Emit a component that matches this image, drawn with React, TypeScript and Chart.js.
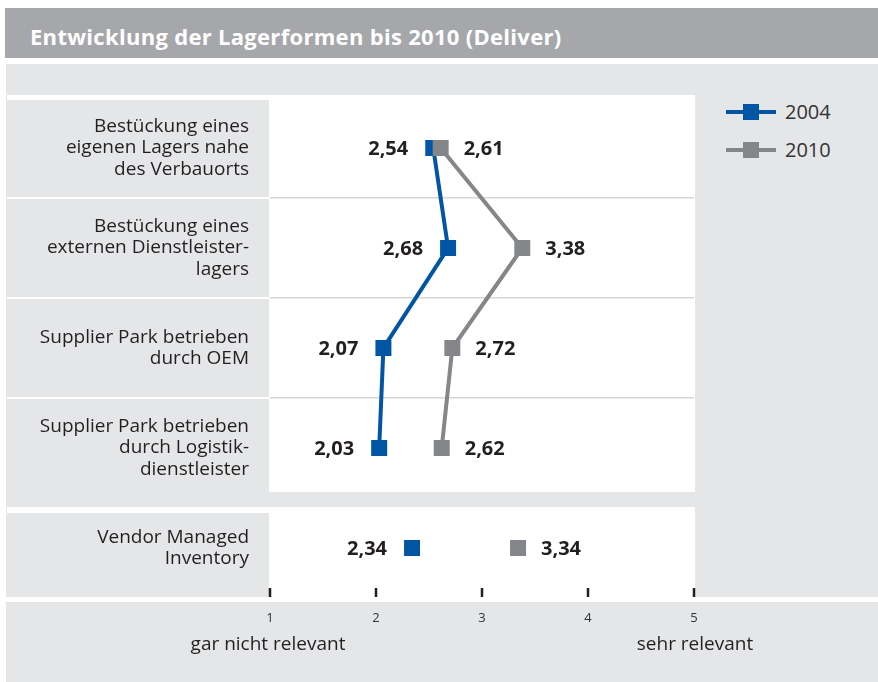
import React, { useEffect, useRef } from "react";
import { Chart, registerables } from "chart.js";

Chart.register(...registerables);

// ---- Data ----
const title = "Entwicklung der Lagerformen bis 2010 (Deliver)";
const categories: string[][] = [
  ["Bestückung eines", "eigenen Lagers nahe", "des Verbauorts"],
  ["Bestückung eines", "externen Dienstleister-", "lagers"],
  ["Supplier Park betrieben", "durch OEM"],
  ["Supplier Park betrieben", "durch Logistik-", "dienstleister"],
  ["Vendor Managed", "Inventory"],
];
const seriesLabels = ["2004", "2010"];
const values2004 = [2.54, 2.68, 2.07, 2.03, 2.34];
const values2010 = [2.61, 3.38, 2.72, 2.62, 3.34];
const xMin = 1;
const xMax = 5;
const axisEndLabels = ["gar nicht relevant", "sehr relevant"];

// ---- Styles ----
const BLUE = "#0055a5";
const GRAY = "#858689";
const TEXT = "#231f20";
const PANEL = "#e5e6e8";
const BAND = "#a6a7aa";
const FONT = '"Open Sans", "Noto Sans", sans-serif';

const hideLastSegment = (ctx: any) =>
  ctx.p1DataIndex === categories.length - 1 ? "rgba(0,0,0,0)" : undefined;

const valueLabels = {
  id: "valueLabels",
  afterDatasetsDraw(chart: any) {
    const ctx = chart.ctx;
    chart.data.datasets.forEach((ds: any, i: number) => {
      const meta = chart.getDatasetMeta(i);
      meta.data.forEach((pt: any, j: number) => {
        const v = ds.data[j];
        if (v == null) return;
        const text = Number(v).toFixed(2).replace(".", ",");
        ctx.save();
        ctx.font = `bold 20px ${FONT}`;
        ctx.fillStyle = TEXT;
        ctx.textBaseline = "middle";
        if (i === 0) {
          ctx.textAlign = "right";
          ctx.fillText(text, pt.x - 25, pt.y + 1);
        } else {
          ctx.textAlign = "left";
          ctx.fillText(text, pt.x + 23, pt.y + 1);
        }
        ctx.restore();
      });
    });
  },
};

const tickMarks = {
  id: "tickMarks",
  afterDraw(chart: any) {
    const ctx = chart.ctx;
    const xs = chart.scales.x;
    const bottom = chart.chartArea.bottom;
    ctx.save();
    ctx.strokeStyle = TEXT;
    ctx.lineWidth = 2.5;
    xs.ticks.forEach((t: any) => {
      const px = xs.getPixelForValue(t.value);
      ctx.beginPath();
      ctx.moveTo(px, bottom - 10);
      ctx.lineTo(px, bottom - 1);
      ctx.stroke();
    });
    ctx.restore();
  },
};

function ChartCanvas() {
  const ref = useRef<HTMLCanvasElement | null>(null);
  useEffect(() => {
    if (!ref.current) return;
    const chart = new Chart(ref.current, {
      type: "line",
      data: {
        labels: categories as any,
        datasets: [
          {
            label: seriesLabels[0],
            data: values2004,
            borderColor: BLUE,
            backgroundColor: BLUE,
            borderWidth: 4,
            pointStyle: "rect",
            pointRadius: 11.3,
            pointHoverRadius: 11.3,
            pointBorderWidth: 0,
            pointBackgroundColor: BLUE,
            tension: 0,
            order: 1,
            segment: { borderColor: hideLastSegment },
          } as any,
          {
            label: seriesLabels[1],
            data: values2010,
            borderColor: GRAY,
            backgroundColor: GRAY,
            borderWidth: 4,
            pointStyle: "rect",
            pointRadius: 11.3,
            pointHoverRadius: 11.3,
            pointBorderWidth: 0,
            pointBackgroundColor: GRAY,
            tension: 0,
            order: 0,
            segment: { borderColor: hideLastSegment },
          } as any,
        ],
      },
      options: {
        indexAxis: "y",
        animation: false,
        responsive: false,
        events: [],
        layout: { padding: { top: 98, right: 184, left: 0, bottom: 0 } },
        plugins: {
          legend: { display: false },
          tooltip: { enabled: false },
          title: { display: false },
        },
        scales: {
          x: {
            type: "linear",
            position: "bottom",
            min: xMin,
            max: xMax,
            ticks: {
              stepSize: 1,
              padding: 12,
              color: "#333",
              font: { family: FONT, size: 13 },
            },
            grid: { display: false, drawTicks: false },
            border: { display: false },
            afterFit: (s: any) => {
              s.height = 84;
            },
          },
          y: {
            type: "category",
            offset: true,
            ticks: {
              padding: 21,
              color: TEXT,
              font: { family: FONT, size: 19, lineHeight: 1.13 },
            },
            grid: {
              offset: true,
              drawTicks: false,
              lineWidth: 1.5,
              color: (ctx: any) =>
                ctx.index >= 1 && ctx.index <= 3 ? "#d6d6d6" : "rgba(0,0,0,0)",
            },
            border: { display: false },
            afterFit: (s: any) => {
              s.width = 270;
            },
          },
        },
      } as any,
      plugins: [valueLabels, tickMarks],
    });
    return () => chart.destroy();
  }, []);
  return (
    <canvas
      ref={ref}
      width={878}
      height={682}
      style={{ position: "absolute", left: 0, top: 0, width: 878, height: 682 }}
    />
  );
}

const box = (left: number, top: number, width: number, height: number, bg: string): React.CSSProperties => ({
  position: "absolute",
  left,
  top,
  width,
  height,
  background: bg,
});

export default function App() {
  const labelCells = [
    [100, 97],
    [199, 98],
    [299, 98],
    [399, 93],
  ];
  const legendY = [112, 150];
  const legendColors = [BLUE, GRAY];
  return (
    <div
      style={{
        position: "absolute",
        left: 0,
        top: 0,
        width: 878,
        height: 682,
        background: "#fff",
        overflow: "hidden",
        fontFamily: FONT,
      }}
    >
      <div style={box(5, 8, 873, 50, BAND)} />
      <div
        style={{
          position: "absolute",
          left: 30,
          top: 11,
          height: 50,
          lineHeight: "50px",
          color: "#fff",
          fontFamily: FONT,
          fontWeight: 700,
          fontSize: 22,
          letterSpacing: 0.3,
          whiteSpace: "nowrap",
        }}
      >
        {title}
      </div>
      <div style={box(6, 64, 872, 618, PANEL)} />
      <div style={box(7, 95, 688, 397, "#fff")} />
      {labelCells.map(([t, h], i) => (
        <div key={i} style={box(7, t, 262, h, PANEL)} />
      ))}
      <div style={box(7, 507, 688, 90, "#fff")} />
      <div style={box(7, 513, 262, 84, PANEL)} />
      <div style={box(6, 597, 872, 5, "#fff")} />
      {seriesLabels.map((s, i) => (
        <React.Fragment key={s}>
          <div style={box(726, legendY[i] - 2, 50, 4, legendColors[i])} />
          <div style={box(743, legendY[i] - 8, 16, 16, legendColors[i])} />
          <div
            style={{
              position: "absolute",
              left: 785,
              top: legendY[i] - 14,
              height: 28,
              lineHeight: "28px",
              fontSize: 20,
              color: "#333",
            }}
          >
            {s}
          </div>
        </React.Fragment>
      ))}
      <ChartCanvas />
      <div
        style={{
          position: "absolute",
          left: 268 - 120,
          width: 240,
          top: 630,
          textAlign: "center",
          fontSize: 19,
          lineHeight: "26px",
          color: TEXT,
        }}
      >
        {axisEndLabels[0]}
      </div>
      <div
        style={{
          position: "absolute",
          left: 695 - 120,
          width: 240,
          top: 630,
          textAlign: "center",
          fontSize: 19,
          lineHeight: "26px",
          color: TEXT,
        }}
      >
        {axisEndLabels[1]}
      </div>
    </div>
  );
}
